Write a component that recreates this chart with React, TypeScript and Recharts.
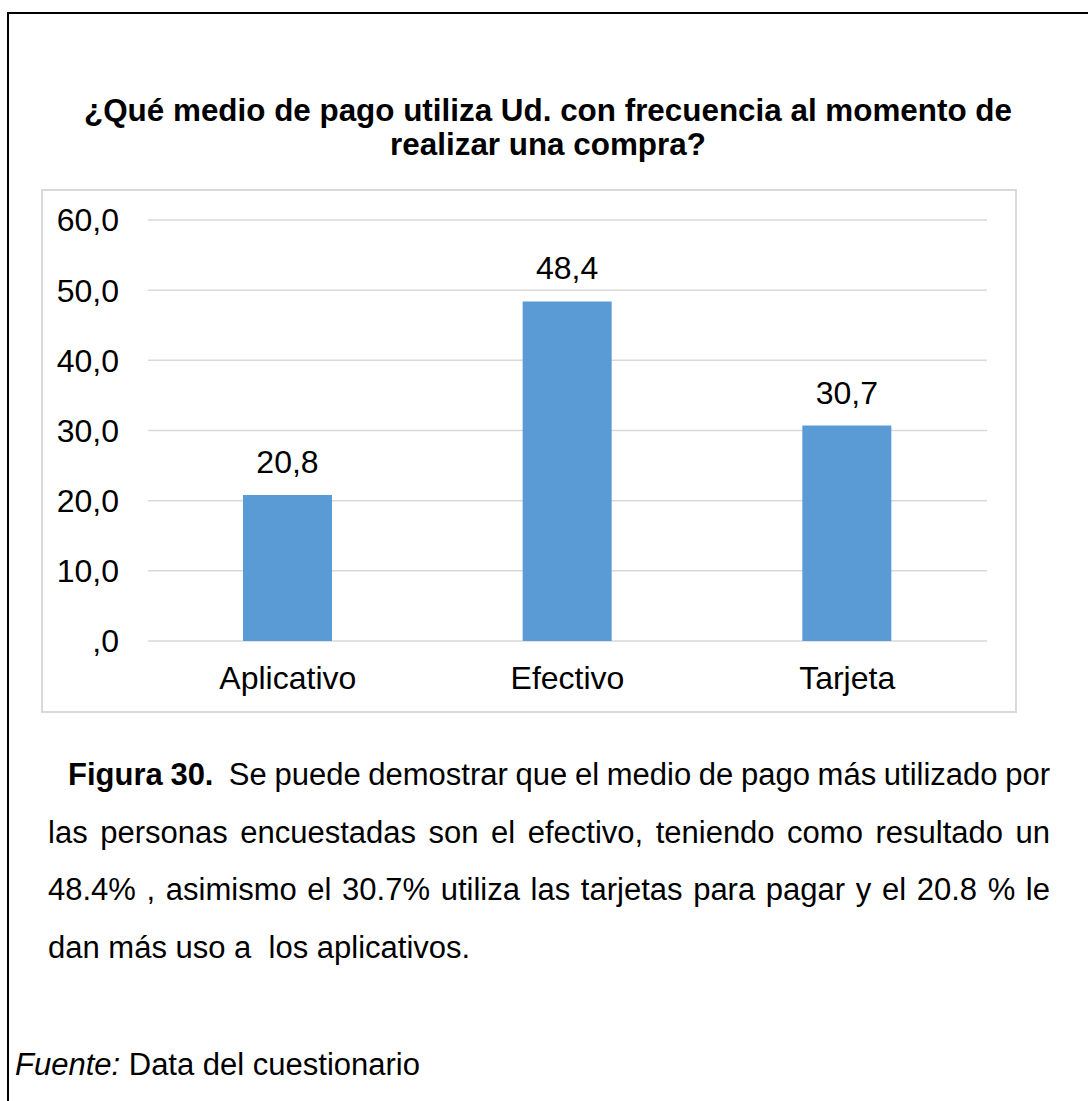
import React from 'react';
import { BarChart, Bar, XAxis, YAxis, CartesianGrid, LabelList } from 'recharts';

const categories = ['Aplicativo', 'Efectivo', 'Tarjeta'];
const values = [20.8, 48.4, 30.7];
const yTicks = [0, 10, 20, 30, 40, 50, 60];

const titleLines = ['¿Qué medio de pago utiliza Ud. con frecuencia al momento de', 'realizar una compra?'];
const captionLead = 'Figura 30.';
const captionLines = [
  '\u00a0 Se puede demostrar que el medio de pago más utilizado por',
  'las personas encuestadas son el efectivo, teniendo como resultado un',
  '48.4% , asimismo el 30.7% utiliza las tarjetas para pagar y el 20.8 % le',
  'dan más uso a\u00a0 los aplicativos.',
];
const sourceLead = 'Fuente:';
const sourceText = ' Data del cuestionario';

const data = categories.map((c, i) => ({ name: c, value: values[i] }));

const FONT = '"Liberation Sans", Arial, sans-serif';

const fmt = (v: number) => {
  const s = v.toFixed(1).replace('.', ',');
  return s.startsWith('0,') ? s.slice(1) : s;
};

export default function App() {
  const lineStyle = (last: boolean): React.CSSProperties => ({
    textAlign: last ? 'left' : 'justify',
    textAlignLast: last ? 'left' : 'justify',
    height: 57.5,
  } as React.CSSProperties);
  return (
    <div style={{ position: 'absolute', left: 0, top: 0, width: 1088, height: 1101, fontFamily: FONT, color: '#000', overflow: 'hidden' }}>
      <div style={{ position: 'absolute', left: 7, top: 12, width: 1200, height: 1200, borderTop: '2px solid #000', borderLeft: '2px solid #000' }} />
      <div style={{ position: 'absolute', left: 8, top: 94, width: 1080, textAlign: 'center', fontWeight: 'bold', fontSize: 31.4, lineHeight: '34px' }}>
        {titleLines.map((t, i) => <div key={i}>{t}</div>)}
      </div>
      <div style={{ position: 'absolute', left: 41, top: 189, width: 976, height: 524, border: '2px solid #d9d9d9', boxSizing: 'border-box', background: '#fff' }}>
        <BarChart width={972} height={520} data={data} margin={{ top: 29, right: 28, bottom: 0, left: 0 }}>
          <CartesianGrid horizontal vertical={false} stroke="#d9d9d9" strokeWidth={1.5} />
          <XAxis dataKey="name" axisLine={false} tickLine={false} tickSize={0} tickMargin={25} height={70}
            tick={{ fill: '#000', fontSize: 32, fontFamily: FONT }} />
          <YAxis domain={[0, 60]} ticks={yTicks} axisLine={false} tickLine={false} tickSize={0} tickMargin={29} width={105}
            tickFormatter={fmt} tick={{ fill: '#000', fontSize: 32, fontFamily: FONT }} />
          <Bar dataKey="value" fill="#5b9bd5" barSize={89} isAnimationActive={false}>
            <LabelList dataKey="value" position="top" offset={22} formatter={(v: number) => fmt(v)}
              style={{ fill: '#000', fontSize: 32, fontFamily: FONT }} />
          </Bar>
        </BarChart>
      </div>
      <div style={{ position: 'absolute', left: 48, top: 746, width: 1002, fontSize: 31, lineHeight: '57.5px' }}>
        {captionLines.map((t, i) => (
          <div key={i} style={{ ...lineStyle(i === captionLines.length - 1), paddingLeft: i === 0 ? 20 : 0, wordSpacing: i === 0 ? -2 : 0 }}>
            {i === 0 ? <b>{captionLead}</b> : null}{t}
          </div>
        ))}
      </div>
      <div style={{ position: 'absolute', left: 15, top: 1045, fontSize: 31, lineHeight: '40px', whiteSpace: 'pre' }}>
        <i>{sourceLead}</i>{sourceText}
      </div>
    </div>
  );
}
